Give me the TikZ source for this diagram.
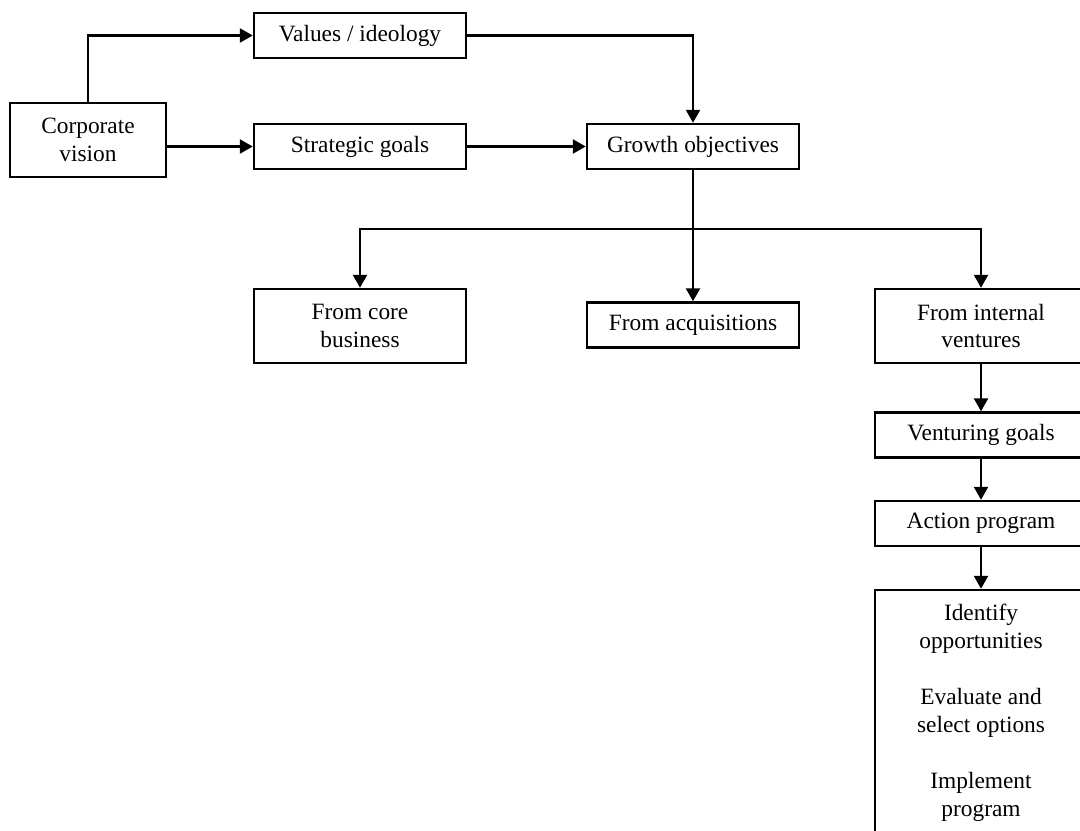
\documentclass[tikz,border=0pt]{standalone}
\usepackage{fontspec}
\setmainfont{Liberation Serif}
\usetikzlibrary{arrows.meta}

\begin{document}
\begin{tikzpicture}[
    box/.style={draw, line width=1.4pt, align=center, inner sep=0pt,
        minimum width=4.24cm, minimum height=0.9cm,
        font=\fontsize{13.3}{15.9}\selectfont},
    link/.style={line width=1.4pt, -{Triangle[length=2.6mm, width=2.8mm]}}]
    % Page area
    \useasboundingbox (0,0) rectangle (21.6,-16.6);
    \clip (0,0) rectangle (21.6,-16.6);

    % Top row
    \node[box, minimum width=3.12cm, minimum height=1.48cm] (vision) at (1.76,-2.80) {Corporate\\vision};
    \node[box] (values) at (7.20,-0.71) {Values / ideology};
    \node[box] (strategic) at (7.20,-2.93) {Strategic goals};
    \node[box] (growth) at (13.86,-2.93) {Growth objectives};

    % Sources of growth
    \coordinate (split) at (13.86,-4.58);
    \node[box, minimum height=1.48cm] (core) at (7.20,-6.52) {From core\\business};
    \node[box] (acquisitions) at (13.86,-6.50) {From acquisitions};
    \node[box, minimum height=1.48cm] (internal) at (19.62,-6.52) {From internal\\ventures};

    % Venturing chain
    \node[box] (venturing) at (19.62,-8.70) {Venturing goals};
    \node[box] (action) at (19.62,-10.47) {Action program};
    \node[box, minimum height=4.9cm] (steps) at (19.62,-14.25)
        {Identify\\opportunities\\[16pt]Evaluate and\\select options\\[16pt]Implement\\program};

    % Connectors
    \draw[link] (vision.north) |- (values.west);
    \draw[link] (vision.east |- strategic.west) -- (strategic.west);
    \draw[link] (strategic.east) -- (growth.west);
    \draw[link] (values.east) -| (growth.north);
    \draw[line width=1.4pt] (growth.south) -- (split);
    \draw[link] (split) -| (core.north);
    \draw[link] (split) -- (acquisitions.north);
    \draw[link] (split) -| (internal.north);
    \draw[link] (internal) -- (venturing);
    \draw[link] (venturing) -- (action);
    \draw[link] (action) -- (steps);

\end{tikzpicture}
\end{document}
